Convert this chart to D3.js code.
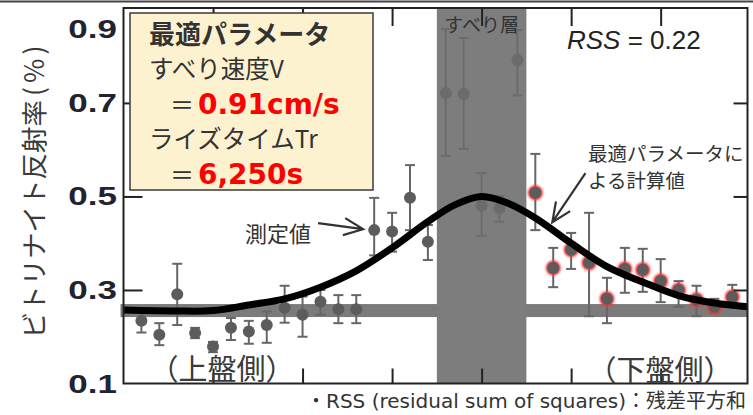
<!DOCTYPE html>
<html lang="ja">
<head>
<meta charset="UTF-8">
<title>ビトリナイト反射率</title>
<script src="https://d3js.org/d3.v7.min.js"></script>
<style>
  body { margin: 0; background: #fff; }
  svg { display: block; }
  text { font-family: "Noto Sans CJK JP", sans-serif; fill: #333; }
</style>
</head>
<body>
<svg id="svg" width="753" height="415"></svg>
<script>
// 測定位置（すべり層中心からの距離、目盛1つ = 1）
const measX = [-3.8, -3.6, -3.4, -3.2, -3.0, -2.8, -2.6, -2.4, -2.2, -2.0, -1.8, -1.6, -1.4, -1.2, -1.0, -0.8, -0.6,
               -0.4, -0.2, 0.0, 0.2, 0.4,
               0.6, 0.8, 1.0, 1.2, 1.4, 1.6, 1.8, 2.0, 2.2, 2.4, 2.6, 2.8]
// 測定値 (%)
const measY = [0.234, 0.204, 0.291, 0.208, 0.179, 0.219, 0.211, 0.225, 0.262, 0.247, 0.275, 0.259, 0.259, 0.428, 0.425, 0.497, 0.403,
               0.721, 0.719, 0.480, 0.475, 0.792,
               0.508, 0.347, 0.386, 0.358, 0.281, 0.345, 0.343, 0.319, 0.300, 0.279, 0.264, 0.285]
const errHi = [0.251, 0.229, 0.356, 0.219, 0.189, 0.240, 0.234, 0.254, 0.309, 0.286, 0.300, 0.289, 0.289, 0.497, 0.465, 0.567, 0.439,
               0.858, 0.839, 0.550, 0.501, 0.856,
               0.591, 0.390, 0.422, 0.465, 0.326, 0.390, 0.388, 0.366, 0.319, 0.309, 0.281, 0.311]
const errLo = [0.209, 0.182, 0.225, 0.197, 0.167, 0.193, 0.185, 0.187, 0.230, 0.200, 0.247, 0.229, 0.229, 0.374, 0.382, 0.428, 0.364,
               0.587, 0.602, 0.416, 0.446, 0.716,
               0.428, 0.306, 0.345, 0.244, 0.229, 0.294, 0.296, 0.274, 0.264, 0.244, 0.251, 0.264]

// 最適パラメータによる計算値
const fitX = [-4.0, -3.4, -3.0, -2.6, -2.2, -1.8, -1.4, -1.0, -0.6, -0.3, 0.0, 0.3, 0.6, 1.0, 1.4, 1.8, 2.2, 2.6, 2.97]
const fitY = [0.257, 0.255, 0.256, 0.268, 0.281, 0.306, 0.341, 0.390, 0.446, 0.482, 0.500, 0.485, 0.454, 0.400, 0.350, 0.317, 0.288, 0.272, 0.264]

const slipZone = [-0.5, 0.5]   // すべり層
const baseLevel = 0.256        // バックグラウンド
const yTicks = [0.1, 0.3, 0.5, 0.7, 0.9]
const xTicks = [-3, -2, -1, 0, 1, 2]

const svg = d3.select('#svg')

const x = d3.scaleLinear().domain([-4, 2.97]).range([123.5, 747.5])
const y = d3.scaleLinear().domain([0.1, 0.903]).range([383.5, 8])

// 上端の線
svg.append('line').attr('x1', 0).attr('x2', 753).attr('y1', 1.5).attr('y2', 1.5)
  .attr('stroke', '#444').attr('stroke-width', 2)

// 帯（水平・すべり層）
svg.append('rect')
  .attr('x', x(-4) - 3).attr('width', x(2.97) - x(-4) + 3)
  .attr('y', y(baseLevel) - 6.5).attr('height', 13)
  .attr('fill', '#7b7b7b')
svg.append('rect')
  .attr('x', x(slipZone[0])).attr('width', x(slipZone[1]) - x(slipZone[0]))
  .attr('y', y(0.903)).attr('height', y(0.1) - y(0.903))
  .attr('fill', '#7d7d7d')

const pts = measX.map((v, i) => ({
  x: v, y: measY[i], hi: errHi[i], lo: errLo[i],
  side: v < slipZone[0] ? 'up' : (v > slipZone[1] ? 'down' : 'zone')
}))

const defs = svg.append('defs')
defs.append('filter').attr('id', 'glow').attr('x', '-50%').attr('y', '-50%').attr('width', '200%').attr('height', '200%')
  .append('feGaussianBlur').attr('stdDeviation', 1.1)

const errColor = d => d.side === 'zone' ? '#6c6c6c' : '#666'

// エラーバー
const eb = svg.append('g')
eb.selectAll('line.v').data(pts).join('line')
  .attr('x1', d => x(d.x)).attr('x2', d => x(d.x))
  .attr('y1', d => y(d.hi)).attr('y2', d => y(d.lo))
  .attr('stroke', errColor).attr('stroke-width', 2)
;['hi', 'lo'].forEach(k => {
  eb.selectAll('line.c' + k).data(pts).join('line')
    .attr('x1', d => x(d.x) - 5).attr('x2', d => x(d.x) + 5)
    .attr('y1', d => y(d[k])).attr('y2', d => y(d[k]))
    .attr('stroke', errColor).attr('stroke-width', 2)
})

// 下盤側の赤い縁取り
svg.append('g').selectAll('circle').data(pts.filter(d => d.side === 'down')).join('circle')
  .attr('cx', d => x(d.x)).attr('cy', d => y(d.y)).attr('r', 7.5)
  .attr('fill', '#ff3333').attr('filter', 'url(#glow)')

svg.append('g').selectAll('circle').data(pts).join('circle')
  .attr('cx', d => x(d.x)).attr('cy', d => y(d.y)).attr('r', 6)
  .attr('fill', d => d.side === 'zone' ? '#6b6b6b' : '#5c5c5c')

// 計算値の曲線
svg.append('path')
  .datum(fitX.map((v, i) => [v, fitY[i]]))
  .attr('d', d3.line().x(d => x(d[0])).y(d => y(d[1])).curve(d3.curveCatmullRom))
  .attr('fill', 'none').attr('stroke', '#000').attr('stroke-width', 7)

// 枠と目盛
const styleAxis = g => {
  g.select('.domain').remove()
  g.selectAll('line').attr('stroke', '#222').attr('stroke-width', 2)
  g.selectAll('text').remove()
}
svg.append('g').attr('transform', `translate(${x(-4)},0)`)
  .call(d3.axisLeft(y).tickValues([0.3, 0.5, 0.7]).tickSize(-19)).call(styleAxis)
svg.append('g').attr('transform', `translate(${x(2.97)},0)`)
  .call(d3.axisRight(y).tickValues([0.3, 0.5, 0.7]).tickSize(-14)).call(styleAxis)
svg.append('g').attr('transform', `translate(0,${y(0.903)})`)
  .call(d3.axisTop(x).tickValues(xTicks).tickSize(-18)).call(styleAxis)
svg.append('g').attr('transform', `translate(0,${y(0.1)})`)
  .call(d3.axisBottom(x).tickValues(xTicks).tickSize(-15)).call(styleAxis)

svg.append('rect')
  .attr('x', x(-4)).attr('y', y(0.903))
  .attr('width', x(2.97) - x(-4)).attr('height', y(0.1) - y(0.903))
  .attr('fill', 'none').attr('stroke', '#222').attr('stroke-width', 2)

// y目盛ラベル
svg.append('g').selectAll('text').data(yTicks).join('text')
  .attr('transform', d => `translate(117,${Math.max(y(d), 29)}) scale(1.4,1)`)
  .attr('text-anchor', 'end').attr('dominant-baseline', 'central')
  .style('font-family', '"Liberation Sans", Arial, sans-serif')
  .style('font-weight', 'bold').style('font-size', '25px').style('fill', '#23232f')
  .text(d => d.toFixed(1))

const yTitle = svg.append('text')
  .attr('transform', 'translate(32,190) rotate(-90)')
  .attr('text-anchor', 'middle').attr('dominant-baseline', 'central')
  .style('font-size', '26.5px').style('fill', '#3a3a3a')
yTitle.append('tspan').text('ビトリナイト反射率')
yTitle.append('tspan').attr('dx', 4).style('letter-spacing', '4px').text('(%)')

// パラメータ枠
svg.append('rect').attr('x', 130).attr('y', 13).attr('width', 243).attr('height', 177)
  .attr('fill', '#fdf2cf').attr('stroke', '#3a3a3a').attr('stroke-width', 1.5)

const box = svg.append('g')
box.append('text').attr('x', 149).attr('y', 32).attr('dominant-baseline', 'central')
  .style('font-size', '26px').style('font-weight', 'bold').text('最適パラメータ')
box.append('text').attr('x', 149).attr('y', 67).attr('dominant-baseline', 'central')
  .style('font-size', '24.5px').text('すべり速度V')
box.append('text').attr('x', 149).attr('y', 137).attr('dominant-baseline', 'central')
  .style('font-size', '24.5px').text('ライズタイムTr')
;[[103, '0.91cm/s'], [173, '6,250s']].forEach(([yy, s]) => {
  box.append('text').attr('x', 170).attr('y', yy).attr('dominant-baseline', 'central')
    .style('font-size', '24px').text('＝')
  box.append('text').attr('x', 198).attr('y', yy + 1).attr('dominant-baseline', 'central')
    .style('font-family', '"DejaVu Sans", sans-serif').style('font-weight', 'bold')
    .style('font-size', '28px').style('fill', '#ff0000').text(s)
})

// 注記
svg.append('text').attr('x', x(0)).attr('y', 23).attr('text-anchor', 'middle').attr('dominant-baseline', 'central')
  .style('font-size', '19px').style('fill', '#333').text('すべり層')

const rss = svg.append('text').attr('x', 567).attr('y', 40).attr('dominant-baseline', 'central')
  .style('font-family', '"Liberation Sans", Arial, sans-serif').style('font-size', '26px').style('fill', '#222')
rss.append('tspan').style('font-style', 'italic').text('RSS')
rss.append('tspan').text(' = 0.22')

svg.append('text').attr('x', 588).attr('y', 152).attr('dominant-baseline', 'central')
  .style('font-size', '19.5px').text('最適パラメータに')
svg.append('text').attr('x', 588).attr('y', 179).attr('dominant-baseline', 'central')
  .style('font-size', '19.5px').text('よる計算値')
svg.append('text').attr('x', 245).attr('y', 232).attr('dominant-baseline', 'central')
  .style('font-size', '22px').text('測定値')

svg.append('text').attr('x', 222).attr('y', 367).attr('text-anchor', 'middle').attr('dominant-baseline', 'central')
  .style('font-size', '29px').style('fill', '#3a3a3a').text('（上盤側）')
svg.append('text').attr('x', 660).attr('y', 368).attr('text-anchor', 'middle').attr('dominant-baseline', 'central')
  .style('font-size', '29px').style('fill', '#3a3a3a').text('（下盤側）')

svg.append('text').attr('x', 746).attr('y', 401).attr('text-anchor', 'end').attr('dominant-baseline', 'central')
  .style('font-family', '"DejaVu Sans", "Noto Sans CJK JP", sans-serif')
  .style('font-size', '20px').style('fill', '#333').text('・RSS (residual sum of squares)：残差平方和')

// 矢印
function arrow(x1, y1, x2, y2) {
  const a = Math.atan2(y2 - y1, x2 - x1), len = 21, w = 0.42
  const p = d3.path()
  p.moveTo(x1, y1); p.lineTo(x2, y2)
  p.moveTo(x2 - len * Math.cos(a - w), y2 - len * Math.sin(a - w))
  p.lineTo(x2, y2)
  p.lineTo(x2 - len * Math.cos(a + w), y2 - len * Math.sin(a + w))
  svg.append('path').attr('d', p.toString())
    .attr('fill', 'none').attr('stroke', '#333').attr('stroke-width', 2.2)
}
arrow(x(-1.827), y(0.443), x(-1.324), y(0.430))
arrow(x(1.16), y(0.550), x(0.79), y(0.445))
</script>
</body>
</html>
